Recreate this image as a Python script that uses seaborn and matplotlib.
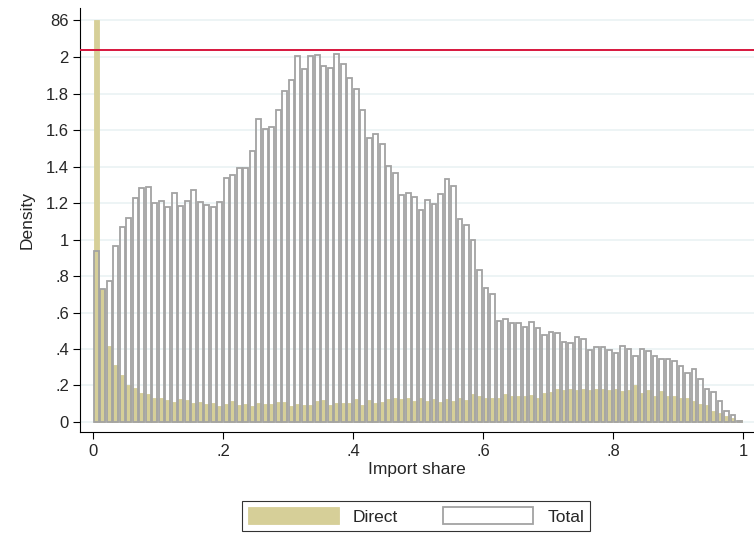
import numpy as np
import seaborn as sns
import matplotlib.pyplot as plt

# bin lefts, width .01
bin_left = np.arange(100) / 100

total = [0.938, 0.727, 0.773, 0.966, 1.07, 1.117, 1.229, 1.282, 1.288, 1.199,
         1.21, 1.177, 1.256, 1.183, 1.21, 1.274, 1.205, 1.19, 1.177, 1.205,
         1.339, 1.352, 1.392, 1.392, 1.484, 1.664, 1.609, 1.616, 1.713, 1.814,
         1.875, 2.007, 1.936, 2.007, 2.013, 1.952, 1.943, 2.017, 1.961, 1.884,
         1.824, 1.713, 1.558, 1.58, 1.522, 1.401, 1.364, 1.247, 1.254, 1.232,
         1.161,
         1.218, 1.196, 1.251, 1.333, 1.296, 1.113, 1.08, 0.999, 0.834, 0.737,
         .7, .553, .565, .54, .54, .522, .547, .518, .476, .494,
         .488, .437, .433, .464, .455, .397, .409, .409, .397, .378,
         .415, .4, .36, .402, .387, .36, .345, .345, .332, .309,
         .268, .292, .235, .18, .162, .117, .062, .039, .008]

direct = [86, 0.73,
          .415, .314, .259, .200, .189, .158, .152, .134, .130, .121,
          .112, .127, .121, .106, .112, .099, .103, .090, .097, .116,
          .094, .097, .088, .103, .097, .099, .108, .112, .090, .099,
          .094, .094, .116, .121, .094, .103, .103, .103, .127, .094,
          .121, .103, .112, .127, .134,
          .125, .130, .117, .134, .117, .125, .110, .125, .117, .130,
          .121, .152, .145, .134, .134, .130, .152, .143, .145, .145,
          .148, .134, .158, .163, .180, .173, .180, .176, .180, .176,
          .182, .180, .176, .182, .171, .173, .200, .158, .176, .143,
          .171, .145, .143, .134, .130, .115, .097, .091, .062, .050,
          .030, .020, .010]

ytick_vals = [0, .2, .4, .6, .8, 1, 1.2, 1.4, 1.6, 1.8, 2]
ytick_labels = ["0", ".2", ".4", ".6", ".8", "1", "1.2", "1.4", "1.6", "1.8", "2"]

# broken axis: values above the break are drawn at a fixed spot
BREAK_POS = 2.204
direct_plot = [BREAK_POS if v > 2.1 else v for v in direct]

sns.set_style("white")
plt.rcParams['font.family'] = ['Liberation Sans', 'DejaVu Sans']
fig = plt.figure(figsize=(7.54, 5.33), dpi=100)
ax = fig.add_axes([80 / 754, 1 - 432 / 533, 674 / 754, 424 / 533])

for y in ytick_vals + [BREAK_POS]:
    ax.axhline(y, color="#eaf2f3", lw=1.2, zorder=0)

w = 0.0075
ax.bar(bin_left + 0.001, direct_plot, width=w, align="edge",
       color="#d6cf98", edgecolor="#d6cf98", lw=0.6, zorder=2, label="Direct")
ax.bar(bin_left + 0.001, total, width=w, align="edge",
       facecolor="none", edgecolor="#a3a3a3", lw=1.3, zorder=3, label="Total")
ax.axhline(2.039, color="#d7163d", lw=1.4, zorder=4)

ax.set_xlim(-0.02, 1.017)
ax.set_ylim(-0.055, 2.27)
ax.set_xticks([0, .2, .4, .6, .8, 1])
ax.set_xticklabels(["0", ".2", ".4", ".6", ".8", "1"])
ax.set_yticks(ytick_vals + [BREAK_POS])
ax.set_yticklabels(ytick_labels + ["86"])
ax.tick_params(axis="both", labelsize=12, length=5, width=0.8, color="black",
               direction="out", bottom=True, left=True)
ax.tick_params(axis="y", pad=3)
for s in ["top", "right"]:
    ax.spines[s].set_visible(False)
for s in ["left", "bottom"]:
    ax.spines[s].set_color("black")
    ax.spines[s].set_linewidth(0.8)
ax.set_xlabel("Import share", fontsize=12.5, labelpad=2)
ax.set_ylabel("Density", fontsize=12.5, labelpad=8)

leg = fig.legend(loc="lower center", bbox_to_anchor=(0.552, -0.012), ncol=2,
                 frameon=True, fancybox=False, edgecolor="black", fontsize=12.5,
                 handlelength=5.2, handleheight=1.1, columnspacing=2.6, borderpad=0.35)
leg.get_frame().set_linewidth(0.8)

fig.savefig("out.png", dpi=100)
